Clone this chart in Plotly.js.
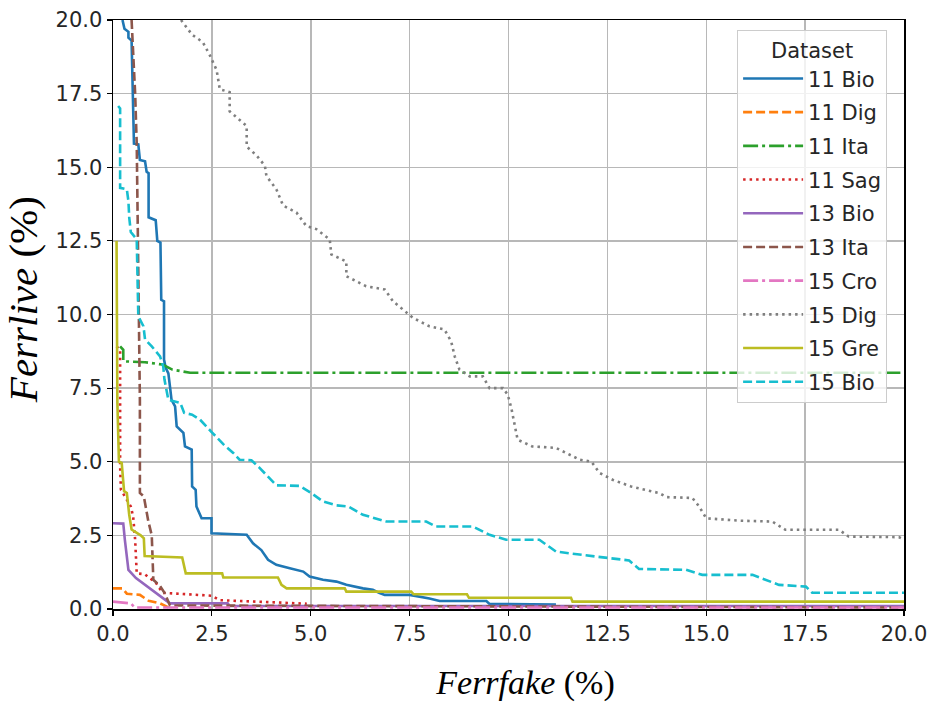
<!DOCTYPE html>
<html>
<head>
<meta charset="utf-8">
<script src="https://cdn.plot.ly/plotly-3.0.1.min.js"></script>
<style>html,body{margin:0;padding:0;background:#fff;}#chart{width:932px;height:702px;}</style>
</head>
<body>
<div id="chart"></div>
<script>
// ---- data ----
const seriesNames = ["11 Bio","11 Dig","11 Ita","11 Sag","13 Bio","13 Ita","15 Cro","15 Dig","15 Gre","15 Bio"];

const bio11_x = [0.24,0.29,0.39,0.39,0.47,0.5,0.53,0.64,0.68,0.81,0.85,0.9,0.9,1.08,1.12,1.2,1.22,1.29,1.29,1.33,1.4,1.44,1.48,1.57,1.61,1.78,1.82,1.99,2.0,2.09,2.11,2.24,2.49,2.49,3.38,3.54,3.75,3.92,4.13,4.47,4.81,4.97,5.31,5.65,5.9,6.32,6.57,6.74,6.87,7.5,8.0,8.26,9.44,9.52,11.2];
const bio11_y = [20,19.7,19.6,19.4,19.3,17.5,15.8,15.78,15.25,15.2,14.85,14.8,13.3,13.2,12.5,12.44,10.5,10.45,8.47,8.2,8.0,7.56,7.1,6.88,6.2,5.98,5.52,5.41,4.16,4.05,3.48,3.08,3.08,2.57,2.52,2.23,2.0,1.67,1.5,1.38,1.27,1.1,0.99,0.93,0.82,0.7,0.65,0.54,0.48,0.48,0.36,0.27,0.27,0.17,0.15];

const dig11_x = [0,0.24,0.35,0.68,0.9,1.19,1.44];
const dig11_y = [0.7,0.7,0.52,0.48,0.28,0.19,0.03];

const ita11_x = [0.18,0.26,0.26,0.81,1.25,1.5,1.95,20];
const ita11_y = [8.92,8.8,8.41,8.38,8.3,8.13,8.02,8.02];

const sag11_x = [0.09,0.18,0.18,0.2,0.45,0.51,0.56,0.6,0.8,1.08,1.25,2.2,2.5,2.7,3.6,4.9];
const sag11_y = [8.92,8.8,4.84,4.05,3.48,3.14,2.35,1.21,1.18,0.9,0.55,0.48,0.45,0.3,0.25,0.18];

const bio13_x = [0,0.22,0.26,0.3,0.35,0.39,0.58,0.83,1.08,1.3,1.44,2.9,2.95,20];
const bio13_y = [2.91,2.91,2.9,2.35,1.85,1.33,1.05,0.8,0.55,0.3,0.19,0.19,0.1,0.1];

const ita13_x = [0.47,0.51,0.56,0.6,0.64,0.68,0.68,0.78,0.89,0.98,1.02,1.18,1.31,1.44,20];
const ita13_y = [20,19,17.5,15.8,10.5,7.1,3.94,3.82,3.0,2.5,0.99,0.8,0.53,0.12,0.05];

const cro15_x = [0,0.45,0.55,20];
const cro15_y = [0.25,0.19,0.05,0.05];

const dig15_x = [1.72,2.0,2.27,2.45,2.62,2.7,2.95,2.95,3.38,3.38,3.63,3.84,3.88,4.13,4.3,4.64,4.89,5.14,5.48,5.52,5.9,5.9,6.4,6.87,7.08,7.42,7.58,8.0,8.38,8.55,8.64,8.76,9.02,9.35,9.52,9.86,9.98,10.07,10.23,10.6,11.2,11.8,12.1,12.3,12.63,13.1,13.8,14.0,14.65,14.82,15.0,15.83,16.67,17.0,18.36,18.6,19.87,20];
const dig15_y = [20,19.5,19.25,18.8,18.3,17.65,17.55,16.9,16.4,15.7,15.4,15.05,14.7,14.25,13.7,13.46,13.0,12.9,12.55,12.04,11.8,11.3,10.96,10.85,10.45,10.06,9.89,9.6,9.49,9.09,8.58,8.13,7.9,7.9,7.5,7.5,7.28,6.83,5.75,5.52,5.47,5.07,5.0,4.62,4.39,4.16,3.94,3.8,3.77,3.48,3.08,3.0,2.97,2.69,2.69,2.46,2.44,2.35];

const gre15_x = [0.09,0.11,0.15,0.22,0.28,0.35,0.41,0.47,0.7,0.78,0.8,1.75,1.84,2.76,2.79,4.17,4.26,4.39,5.86,5.9,7.54,7.6,8.95,9.0,11.58,11.62,20];
const gre15_y = [12.5,7.05,5.0,4.96,4.0,3.94,3.2,2.7,2.5,2.4,1.8,1.75,1.21,1.21,1.07,1.07,0.82,0.7,0.7,0.59,0.59,0.5,0.5,0.38,0.38,0.25,0.25];

const bio15_x = [0.13,0.18,0.18,0.35,0.39,0.41,0.45,0.6,0.64,0.77,0.81,0.98,1.19,1.27,1.3,1.36,1.4,1.7,1.8,2.0,2.2,2.5,2.8,3.04,3.2,3.5,3.7,3.95,4.13,4.72,5.0,5.31,5.65,5.95,6.32,6.91,7.92,8.17,9.1,9.52,9.94,10.78,11.2,12.21,13.05,13.3,14.49,14.9,16.17,16.84,17.52,17.68,20];
const bio15_y = [17.08,17.0,14.3,14.25,13.85,13.3,12.8,12.55,9.94,9.6,9.15,8.92,8.58,8.24,7.8,7.4,7.1,7.0,6.66,6.6,6.43,6.0,5.58,5.3,5.07,5.05,4.8,4.45,4.2,4.18,3.95,3.65,3.52,3.48,3.2,2.97,2.97,2.8,2.8,2.52,2.35,2.35,1.95,1.78,1.65,1.36,1.33,1.16,1.16,0.82,0.76,0.55,0.55];

const xTickVals = [0,2.5,5,7.5,10,12.5,15,17.5,20];
const xTickText = ["0.0","2.5","5.0","7.5","10.0","12.5","15.0","17.5","20.0"];
const yTickVals = [0,2.5,5,7.5,10,12.5,15,17.5,20];
const yTickText = ["0.0","2.5","5.0","7.5","10.0","12.5","15.0","17.5","20.0"];

// ---- styles ----
const LW = 2.6;
const styles = [
  {c:"#1f77b4", d:"solid"},
  {c:"#ff7f0e", d:"9px,4px"},
  {c:"#2ca02c", d:"15px,4px,3px,4px"},
  {c:"#d62728", d:"2.5px,4px"},
  {c:"#9467bd", d:"solid"},
  {c:"#8c564b", d:"9px,4px"},
  {c:"#e377c2", d:"15px,4px,3px,4px"},
  {c:"#7f7f7f", d:"2.5px,4px"},
  {c:"#bcbd22", d:"solid"},
  {c:"#17becf", d:"9px,4px"}
];
const xs = [bio11_x,dig11_x,ita11_x,sag11_x,bio13_x,ita13_x,cro15_x,dig15_x,gre15_x,bio15_x];
const ys = [bio11_y,dig11_y,ita11_y,sag11_y,bio13_y,ita13_y,cro15_y,dig15_y,gre15_y,bio15_y];

const traces = seriesNames.map((n,i)=>({
  type:"scatter", mode:"lines", name:n, legendgroup:"g"+i,
  x: xs[i], y: ys[i],
  line:{color:styles[i].c, width:LW, dash:styles[i].d}
}));

const tickFont = {family:"DejaVu Sans", size:21, color:"#262626"};
const layout = {
  width:932, height:702,
  margin:{l:113, r:28, t:20, b:93},
  paper_bgcolor:"#ffffff", plot_bgcolor:"#ffffff",
  showlegend:true,
  xaxis:{
    range:[0,20], tickmode:"array", tickvals:xTickVals, ticktext:xTickText,
    tickfont:tickFont, ticks:"outside", ticklen:5, tickwidth:1.2, tickcolor:"#000",
    showline:true, linecolor:"#000", linewidth:1.5, mirror:true,
    showgrid:true, gridcolor:"#b8b8b8", gridwidth:1.5, zeroline:false,
    title:{text:"&nbsp;&nbsp;&nbsp;&nbsp;<i>Ferrfake</i> (%)", font:{family:"Liberation Serif", size:34, color:"#000"}, standoff:26}
  },
  yaxis:{
    range:[0,20], tickmode:"array", tickvals:yTickVals, ticktext:yTickText,
    tickfont:tickFont, ticks:"outside", ticklen:5, tickwidth:1.2, tickcolor:"#000",
    showline:true, linecolor:"#000", linewidth:1.5, mirror:true,
    showgrid:true, gridcolor:"#b8b8b8", gridwidth:1.5, zeroline:false,
    title:{text:"&nbsp;&nbsp;&nbsp;<i>Ferrlive</i> (%)", font:{family:"Liberation Serif", size:41, color:"#000"}, standoff:5}
  },
  legend:{
    x:0.789, y:0.983, xanchor:"left", yanchor:"top",
    bgcolor:"rgba(255,255,255,0.8)", bordercolor:"#cccccc", borderwidth:1,
    font:{family:"DejaVu Sans", size:21, color:"#262626"},
    title:{text:"Dataset", side:"top center", font:{family:"DejaVu Sans", size:21, color:"#262626"}},
    tracegroupgap:3.4, traceorder:"grouped", itemwidth:60
  }
};

Plotly.newPlot("chart", traces, layout, {displayModeBar:false, staticPlot:true});
</script>
</body>
</html>
